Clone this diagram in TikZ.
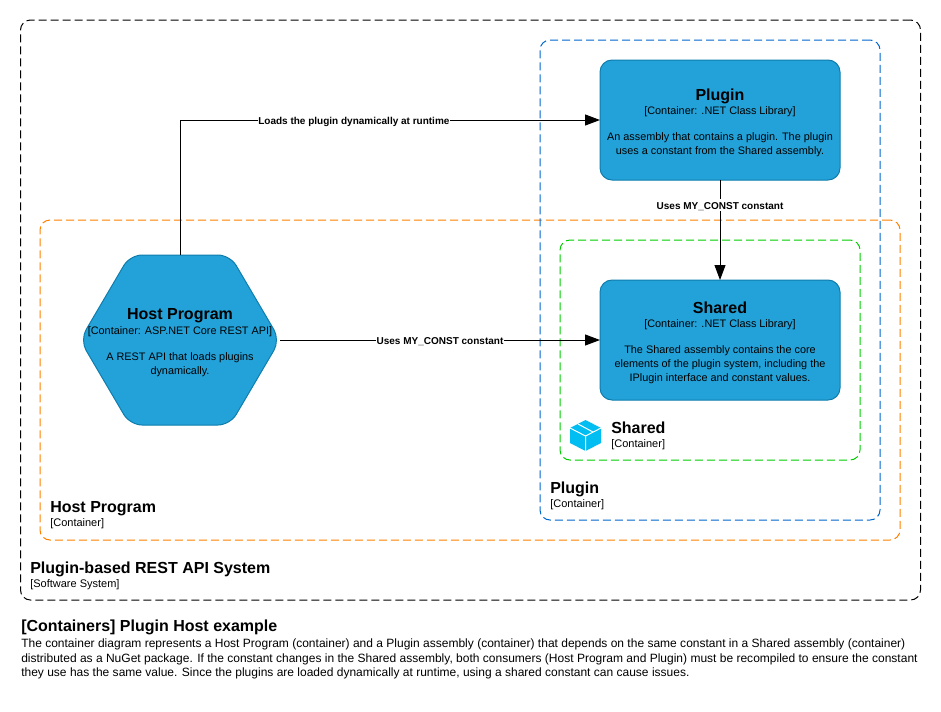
\documentclass[tikz,border=0pt]{standalone}
\usepackage{fontspec}
\setmainfont{Liberation Sans}
\usepackage{xcolor}
\usetikzlibrary{arrows.meta}

\definecolor{containerFill}{HTML}{23A2D9}
\definecolor{containerLine}{HTML}{0E7DAD}
\definecolor{cubeFill}{HTML}{00BEF2}
\definecolor{pluginLine}{HTML}{0066CC}
\definecolor{hostLine}{HTML}{FF8000}
\definecolor{sharedLine}{HTML}{00CC00}

\tikzset{
  boundary/.style={draw, rounded corners=7.5pt, dashed, dash pattern=on 6pt off 3pt, line width=0.75pt, outer sep=0pt, inner sep=0pt},
  container/.style={draw=containerLine, fill=containerFill, rounded corners=9pt, line width=0.75pt, outer sep=0pt,
    minimum width=180pt, minimum height=90pt, align=center, font=\fontsize{8.15}{10.5}\selectfont},
  hosttext/.style={align=center, font=\fontsize{8.15}{10.5}\selectfont},
  boundarylabel/.style={anchor=west, align=left, inner sep=0pt, font=\fontsize{8.25}{10.5}\selectfont},
  edgelabel/.style={fill=white, inner xsep=0.5pt, inner ysep=0pt, text height=7.5pt, text depth=1.5pt, font=\fontsize{7.5}{9}\selectfont\bfseries},
  rel/.style={-{Triangle[length=11.25pt,width=8.25pt]}, line width=0.75pt},
  plain/.style={anchor=base west, inner sep=0pt, font=\fontsize{9.01}{11}\selectfont}
}
\newcommand{\boxtitle}[1]{{\fontsize{12}{14}\selectfont\bfseries #1}}
\newcommand{\boxhead}[1]{\rule{0pt}{13.2pt}\boxtitle{#1}}

\begin{document}
\begin{tikzpicture}[x=0.75pt,y=-0.75pt]
\useasboundingbox (0,0) rectangle (941,711);

% boundaries
\node[boundary, minimum width=675pt, minimum height=435pt] (systemBox) at (470.5,310) {};
\node[boundary, draw=hostLine, minimum width=645pt, minimum height=240pt] (hostBox) at (470,380) {};
\node[boundary, draw=pluginLine, minimum width=255pt, minimum height=360pt] (pluginBox) at (710,280) {};
\node[boundary, draw=sharedLine, minimum width=225pt, minimum height=165pt] (sharedBox) at (710,350) {};

% containers
\fill[containerFill, draw=containerLine, line width=0.75pt, rounded corners=9pt]
  (180,255) -- (230,255) -- (280,340) -- (230,425) -- (130,425) -- (80,340) -- (130,255) -- cycle;
\coordinate (hostTop) at (180,255);
\coordinate (hostRight) at (280,340);
\node[hosttext] (host) at (180,342.5) {\boxtitle{Host Program}\\[0.75pt]
  {}[Container: ASP.NET Core REST API]\\[9pt]
  A REST API that loads plugins\\ dynamically.};
\node[container] (plugin) at (720,120) {\boxhead{Plugin}\\
  {}[Container: .NET Class Library]\\[9pt]
  An assembly that contains a plugin. The plugin\\ uses a constant from the Shared assembly.};
\node[container] (shared) at (720,340) {\boxhead{Shared}\\
  {}[Container: .NET Class Library]\\[9pt]
  The Shared assembly contains the core\\ elements of the plugin system, including the\\ IPlugin interface and constant values.};

% relations
\draw[rel] (hostTop) |- node[edgelabel, pos=0.707] (loadsLabel) {Loads the plugin dynamically at runtime} (plugin.west);
\draw[rel] (hostRight) -- node[edgelabel] (usesLabelA) {Uses MY\_CONST constant} (shared.west);
\draw[rel] (plugin.south) -- node[edgelabel, pos=0.25] (usesLabelB) {Uses MY\_CONST constant} (shared.north);

% cube icon
\fill[cubeFill] (585.5,420) -- (601,428) -- (601,443) -- (585.5,451) -- (570,443) -- (570,428) -- cycle;
\draw[white, line width=0.75pt] (570,428) -- (585.5,436) -- (601,428) (585.5,436) -- (585.5,451) (578,424) -- (593,432);

% boundary labels
\node[boundarylabel] (sharedLabel) at (611,435.5) {\boxtitle{Shared}\\ {}[Container]};
\node[boundarylabel] (pluginLabel) at (550,495.5) {\boxtitle{Plugin}\\ {}[Container]};
\node[boundarylabel] (hostLabel) at (50,515.5) {\boxtitle{Host Program}\\ {}[Container]};
\node[boundarylabel] (systemLabel) at (30,575.5) {\boxtitle{Plugin-based REST API System}\\ {}[Software System]};

% caption
\node[plain, font=\fontsize{12}{14}\selectfont\bfseries] (captionTitle) at (21,631.5) {[Containers] Plugin Host example};
\node[plain] (captionA) at (21,647) {The container diagram represents a Host Program (container) and a Plugin assembly (container) that depends on the same constant in a Shared assembly (container)};
\node[plain] (captionB) at (21,662) {distributed as a NuGet package. If the constant changes in the Shared assembly, both consumers (Host Program and Plugin) must be recompiled to ensure the constant};
\node[plain] (captionC) at (21,676) {they use has the same value. Since the plugins are loaded dynamically at runtime, using a shared constant can cause issues.};
\end{tikzpicture}
\end{document}
